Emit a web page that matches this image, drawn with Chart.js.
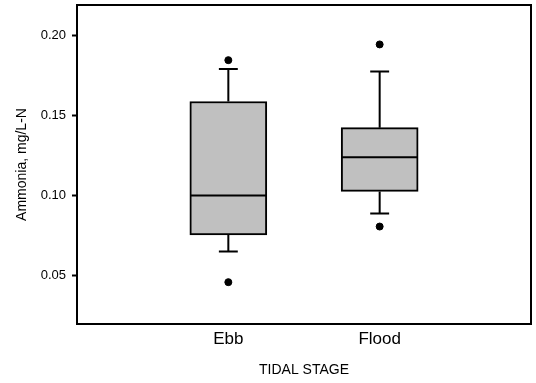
<!DOCTYPE html>
<html>
<head>
<meta charset="utf-8">
<script src="https://cdn.jsdelivr.net/npm/chart.js@4.4.1/dist/chart.umd.min.js"></script>
<style>
  html, body { margin: 0; padding: 0; background: #fff; }
  #wrap { width: 536px; height: 383px; }
</style>
</head>
<body>
<div id="wrap"><canvas id="chart"></canvas></div>
<script>
// box plot summaries
const stages = ['Ebb', 'Flood']
const stagePos = [1, 2]
const q1 = [0.0755, 0.1027]
const median = [0.1002, 0.1240]
const q3 = [0.1588, 0.1425]
const whiskerLow = [0.0652, 0.0890]
const whiskerHigh = [0.1790, 0.1775]
const outliers = [
  [0.0461, 0.1846],
  [0.0808, 0.1944],
]
const yTicks = [0.05, 0.10, 0.15, 0.20]

const boxHalf = 0.253 // in x units
const capHalf = 0.0625
const font = 'Liberation Sans, Arial, sans-serif'

// whisker + cap + median segments, separated by gaps
let segs = []
stagePos.forEach((x, i) => {
  segs.push({ x: x, y: q3[i] }, { x: x, y: whiskerHigh[i] }, { x: x, y: null })
  segs.push({ x: x - capHalf, y: whiskerHigh[i] }, { x: x + capHalf, y: whiskerHigh[i] }, { x: x, y: null })
  segs.push({ x: x, y: q1[i] }, { x: x, y: whiskerLow[i] }, { x: x, y: null })
  segs.push({ x: x - capHalf, y: whiskerLow[i] }, { x: x + capHalf, y: whiskerLow[i] }, { x: x, y: null })
  segs.push({ x: x - boxHalf, y: median[i] }, { x: x + boxHalf, y: median[i] }, { x: x, y: null })
})

let outPts = []
stagePos.forEach((x, i) => {
  outliers[i].forEach((v) => outPts.push({ x: x, y: v }))
})

// frame around the plot area
const framePlugin = {
  id: 'frame',
  afterDatasetsDraw(chart) {
    const a = chart.chartArea
    const c = chart.ctx
    c.save()
    c.strokeStyle = '#000'
    c.lineWidth = 2
    c.strokeRect(a.left, a.top, a.right - a.left, a.bottom - a.top)
    c.restore()
  },
}

const ctx = document.getElementById('chart').getContext('2d')
new Chart(ctx, {
  data: {
    datasets: [
      {
        type: 'bar',
        data: stagePos.map((x, i) => ({ x: x, y: [q1[i], q3[i]] })),
        backgroundColor: '#c0c0c0',
        borderColor: '#000',
        borderWidth: 2,
        borderSkipped: false,
        barThickness: 77,
        order: 3,
      },
      {
        type: 'line',
        data: segs,
        borderColor: '#000',
        borderWidth: 2,
        pointRadius: 0,
        spanGaps: false,
        order: 1,
      },
      {
        type: 'scatter',
        data: outPts,
        backgroundColor: '#000',
        borderColor: '#000',
        pointRadius: 3.5,
        order: 0,
      },
    ],
  },
  plugins: [framePlugin],
  options: {
    responsive: true,
    maintainAspectRatio: false,
    animation: false,
    layout: { padding: { left: 10, right: 1, top: 5, bottom: 0 } },
    plugins: { legend: { display: false }, tooltip: { enabled: false } },
    scales: {
      x: {
        type: 'linear',
        offset: false,
        min: 0,
        max: 3,
        afterBuildTicks: (s) => { s.ticks = stagePos.map((v) => ({ value: v })) },
        afterFit: (s) => {
          s.height = 59
          s.paddingLeft = 0
          s.paddingRight = 0
        },
        grid: { display: false, drawTicks: false },
        border: { display: false },
        ticks: {
          color: '#000',
          font: { family: font, size: 17 },
          padding: 5,
          callback: (v) => stages[stagePos.indexOf(v)],
        },
        title: {
          display: true,
          text: 'TIDAL STAGE',
          color: '#000',
          font: { family: font, size: 14 },
          padding: { top: 0, bottom: 4 },
        },
      },
      y: {
        min: 0.02,
        max: 0.219,
        afterBuildTicks: (s) => { s.ticks = yTicks.map((v) => ({ value: v })) },
        afterFit: (s) => {
          s.width = 67
          s.paddingTop = 0
          s.paddingBottom = 0
        },
        grid: { drawOnChartArea: false, tickLength: 5, tickWidth: 2, color: '#000' },
        border: { display: false },
        ticks: {
          color: '#000',
          font: { family: font, size: 13 },
          padding: 6,
          callback: (v) => v.toFixed(2),
        },
        title: {
          display: true,
          text: 'Ammonia, mg/L-N',
          color: '#000',
          font: { family: font, size: 14 },
          padding: { top: 4, bottom: 0 },
        },
      },
    },
  },
})
</script>
</body>
</html>
